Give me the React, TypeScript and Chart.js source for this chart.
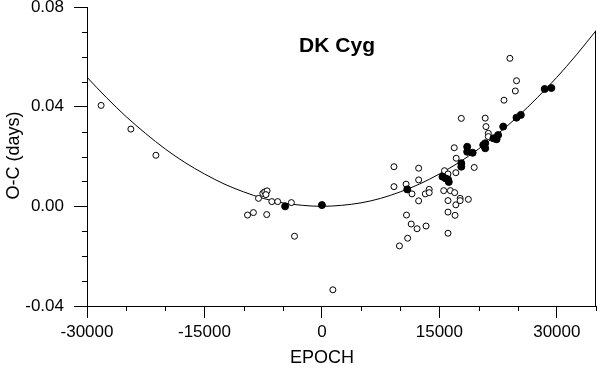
import React, { useEffect, useRef } from "react";
import { Chart, registerables } from "chart.js";

Chart.register(...registerables);

const titleText = "DK Cyg";
const xAxisTitle = "EPOCH";
const yAxisTitle = "O-C (days)";

const xTickValues = [-30000, -15000, 0, 15000, 30000];
const yTickValues = [-0.04, 0.0, 0.04, 0.08];

// O-C data
const openX = [
  -28200, -24400, -21200, -9500, -8750, -8100, -7550, -7300, -7000, -7150, -7050, -6400, -5650, -3900, -3500, 1400,
  9200, 12350, 9200, 10750, 12350, 11500, 12350, 13200, 13700, 13700, 10800, 11400, 12150, 13300, 10950, 9900,
  15650, 16100, 15550, 16400, 16950, 16100, 17100, 17650, 17650, 18700, 16100, 17000, 16100, 16900, 17150, 17100,
  19450, 17800, 20850, 20950, 21250, 21250, 23250, 24700, 24850, 24000,
];
const openY = [
  0.0405, 0.031, 0.0205, -0.0035, -0.0025, 0.0032, 0.0052, 0.0058, 0.0062, 0.0047, -0.0033, 0.0019, 0.0019, 0.0015, -0.012, -0.0335,
  0.0159, 0.0153, 0.0079, 0.0089, 0.0106, 0.005, 0.0022, 0.005, 0.0068, 0.0055, -0.0035, -0.0071, -0.009, -0.0079, -0.0128, -0.0159,
  0.0143, 0.013, 0.0063, 0.0063, 0.0055, 0.0023, 0.0006, 0.0032, 0.0023, 0.0028, -0.0023, -0.0036, -0.0108, 0.0235, 0.0193, 0.0135,
  0.0156, 0.0353, 0.0354, 0.032, 0.0293, 0.028, 0.0426, 0.0463, 0.0504, 0.0594,
];

const filledX = [
  -4700, 0, 10900, 15400, 15800, 16100, 16200, 17800, 17800, 18550, 18550, 19250, 20850, 20850, 20600, 21900, 22300, 22500,
  23150, 24850, 25400, 28450, 29300,
];
const filledY = [
  0.0, 0.0005, 0.0068, 0.0119, 0.0112, 0.0108, 0.0098, 0.0173, 0.0159, 0.0239, 0.0219, 0.0215, 0.0253, 0.0233, 0.0246, 0.0273,
  0.0269, 0.0286, 0.032, 0.0356, 0.0367, 0.0471, 0.0475,
];

// fitted curve
const curveX = [
  -30000, -27500, -25000, -22500, -20000, -17500, -15000, -12500, -10000, -7500, -5000, -2500, 0, 2500, 5000, 7500, 10000,
  12500, 15000, 17500, 20000, 22500, 25000, 27500, 30000, 32500, 35000,
];
const curveY = [
  0.0518, 0.0436, 0.036, 0.0292, 0.023, 0.0176, 0.013, 0.009, 0.0058, 0.0032, 0.0014, 0.0004, 0.0, 0.0004, 0.0014, 0.0032,
  0.0058, 0.009, 0.013, 0.0176, 0.023, 0.0292, 0.036, 0.0436, 0.0518, 0.0608, 0.0705,
];

const xMinorStep = 5000;
const yMinorStep = 0.01;

const FONT = "'Liberation Sans', Arial, sans-serif";

export default function App() {
  const canvasRef = useRef<HTMLCanvasElement | null>(null);

  useEffect(() => {
    document.body.style.margin = "0";
    const canvas = canvasRef.current;
    if (!canvas) return;

    const extras = {
      id: "extras",
      afterDraw(chart: any) {
        const ctx = chart.ctx;
        const xs = chart.scales.x;
        const ys = chart.scales.y;
        const area = chart.chartArea;
        ctx.save();
        ctx.strokeStyle = "#000";
        ctx.lineWidth = 1;
        // minor ticks
        ctx.beginPath();
        for (let v = xs.min; v <= xs.max + 1e-9; v += xMinorStep) {
          if (xTickValues.includes(v)) continue;
          const px = Math.round(xs.getPixelForValue(v)) + 0.5;
          ctx.moveTo(px, area.bottom);
          ctx.lineTo(px, area.bottom + 5);
        }
        for (let i = 0; i <= Math.round((ys.max - ys.min) / yMinorStep); i++) {
          const v = ys.min + i * yMinorStep;
          if (yTickValues.some((t) => Math.abs(t - v) < 1e-9)) continue;
          const py = Math.round(ys.getPixelForValue(v)) + 0.5;
          ctx.moveTo(area.left - 5, py);
          ctx.lineTo(area.left, py);
        }
        // right frame from the curve end down
        const yEnd = ys.getPixelForValue(curveY[curveY.length - 1]);
        ctx.moveTo(Math.round(area.right) - 0.5, yEnd);
        ctx.lineTo(Math.round(area.right) - 0.5, area.bottom);
        ctx.stroke();

        // texts
        ctx.fillStyle = "#000";
        ctx.textAlign = "center";
        ctx.textBaseline = "middle";
        ctx.font = `bold 21px ${FONT}`;
        ctx.fillText(titleText, xs.getPixelForValue(1930), ys.getPixelForValue(0.0644));
        ctx.font = `18px ${FONT}`;
        ctx.fillText(xAxisTitle, xs.getPixelForValue(0), 358);
        ctx.translate(14, (area.top + area.bottom) / 2 - 1);
        ctx.rotate(-Math.PI / 2);
        ctx.fillText(yAxisTitle, 0, 0);
        ctx.restore();
      },
    };

    const chart = new Chart(canvas, {
      type: "scatter",
      data: {
        datasets: [
          {
            label: "fit",
            data: curveX.map((x, i) => ({ x, y: curveY[i] })),
            showLine: true,
            borderColor: "#000",
            borderWidth: 1,
            pointRadius: 0,
            tension: 0.4,
            cubicInterpolationMode: "monotone",
            order: 3,
          } as any,
          {
            label: "visual",
            data: openX.map((x, i) => ({ x, y: openY[i] })),
            backgroundColor: "#fff",
            borderColor: "#000",
            borderWidth: 1,
            pointRadius: 3,
            order: 2,
          },
          {
            label: "CCD/pe",
            data: filledX.map((x, i) => ({ x, y: filledY[i] })),
            backgroundColor: "#000",
            borderColor: "#000",
            borderWidth: 1,
            pointRadius: 3.5,
            order: 1,
          },
        ],
      },
      options: {
        animation: false,
        responsive: false,
        layout: { padding: { top: 7, right: 3, left: 0, bottom: 0 } },
        plugins: { legend: { display: false }, tooltip: { enabled: false }, title: { display: false } },
        scales: {
          x: {
            type: "linear",
            min: -30000,
            max: 35000,
            afterBuildTicks: (scale: any) => {
              scale.ticks = xTickValues.map((value) => ({ value }));
            },
            afterFit: (scale: any) => {
              scale.height = 68;
              scale.paddingLeft = 0;
              scale.paddingRight = 0;
            },
            ticks: {
              color: "#000",
              font: { family: FONT, size: 17 },
              padding: 4,
              maxRotation: 0,
              autoSkip: false,
              callback: (v: any) => String(v),
            },
            grid: { display: true, drawOnChartArea: false, drawTicks: true, tickLength: 12, color: "#000" },
            border: { display: true, color: "#000", width: 1 },
          },
          y: {
            type: "linear",
            min: -0.04,
            max: 0.08,
            afterBuildTicks: (scale: any) => {
              scale.ticks = yTickValues.map((value) => ({ value }));
            },
            afterFit: (scale: any) => {
              scale.width = 87;
              scale.paddingTop = 0;
              scale.paddingBottom = 0;
            },
            ticks: {
              color: "#000",
              font: { family: FONT, size: 17 },
              padding: 10,
              autoSkip: false,
              callback: (v: any) => Number(v).toFixed(2),
            },
            grid: { display: true, drawOnChartArea: false, drawTicks: true, tickLength: 13, color: "#000" },
            border: { display: true, color: "#000", width: 1 },
          },
        },
      },
      plugins: [extras],
    });
    return () => chart.destroy();
  }, []);

  return (
    <div style={{ width: 601, height: 374 }}>
      <canvas ref={canvasRef} width={601} height={374} style={{ display: "block" }} />
    </div>
  );
}
